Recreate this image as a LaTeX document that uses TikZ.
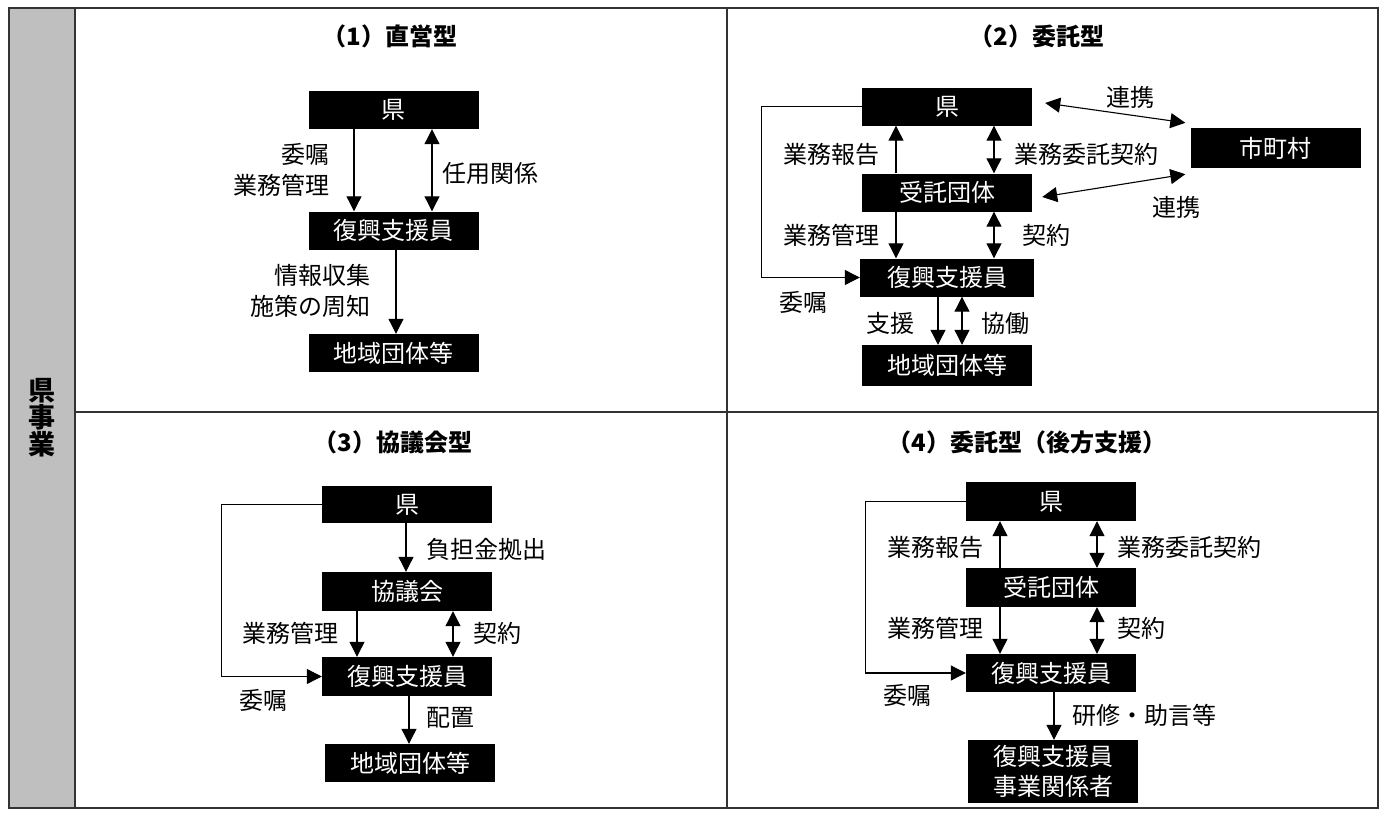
\documentclass[tikz,border=0pt]{standalone}
\usepackage{fontspec}
\setmainfont{Noto Sans CJK JP}
\usetikzlibrary{arrows.meta}
\begin{document}
\begin{tikzpicture}[x=1pt,y=-1pt,
  box/.style={fill=black,text=white,minimum width=170pt,minimum height=38pt,inner sep=0pt,align=center,font=\fontsize{24}{30}\selectfont},
  lbl/.style={inner sep=0pt,font=\fontsize{24}{31}\selectfont},
  ttl/.style={inner sep=0pt,font=\fontsize{24}{30}\selectfont\bfseries},
  arr/.style={line width=1.1pt,-{Triangle[length=15pt,width=15pt]}},
  darr/.style={line width=1.1pt,{Triangle[length=15pt,width=15pt]}-{Triangle[length=15pt,width=15pt]}},
  loop/.style={line width=1.1pt,-{Triangle[length=15pt,width=15pt]}},
  frame/.style={line width=2pt,draw=black!80}]
\useasboundingbox (0,0) rectangle (1386,816);
% side column
\fill[black!25] (9,8) rectangle (75,808);
\node[inner sep=0pt,align=center,font=\fontsize{27}{27}\selectfont\bfseries] (side) at (42,418) {県\\事\\業};
% frame
\draw[frame] (9,8) rectangle (1378,808);
\draw[frame] (75,8) -- (75,808);
\draw[frame] (727,8) -- (727,808);
\draw[frame] (75,412) -- (1378,412);

% titles
\node[ttl] (t1) at (390,36) {（1）直営型};
\node[ttl] (t2) at (1037,36) {（2）委託型};
\node[ttl] (t3) at (393,442) {（3）協議会型};
\node[ttl] (t4) at (1027,442) {（4）委託型（後方支援）};

% ---------- panel 1
\node[box] (p1k) at (393.5,110) {県};
\node[box] (p1f) at (393.5,230.5) {復興支援員};
\node[box] (p1c) at (393.5,353) {地域団体等};
\draw[arr] ([xshift=-39.5pt]p1k.south) -- ([xshift=-39.5pt]p1f.north);
\draw[darr] ([xshift=38.5pt]p1k.south) -- ([xshift=38.5pt]p1f.north);
\draw[arr] ([xshift=2.5pt]p1f.south) -- ([xshift=2.5pt]p1c.north);
\node[lbl,anchor=east,align=right] (l11) at (330,169.5) {委嘱\\業務管理};
\node[lbl,anchor=west] (l12) at (442,173) {任用関係};
\node[lbl,anchor=east,align=right] (l13) at (371,291) {情報収集\\施策の周知};

% ---------- panel 2
\node[box] (p2k) at (947,106.5) {県};
\node[box] (p2j) at (947,192.5) {受託団体};
\node[box,minimum width=174pt] (p2f) at (947,277.5) {復興支援員};
\node[box,minimum height=41pt] (p2c) at (947,365.5) {地域団体等};
\node[box,minimum height=40pt] (p2m) at (1275.5,148) {市町村};
\draw[arr] ([xshift=-51pt]p2j.north) -- ([xshift=-51pt]p2k.south);
\draw[darr] ([xshift=47pt]p2k.south) -- ([xshift=47pt]p2j.north);
\draw[arr] ([xshift=-51pt]p2j.south) -- ([xshift=-51pt]p2f.north);
\draw[darr] ([xshift=47pt]p2j.south) -- ([xshift=47pt]p2f.north);
\draw[arr] ([xshift=-9pt]p2f.south) -- ([xshift=-9pt]p2c.north);
\draw[darr] ([xshift=15pt]p2f.south) -- ([xshift=15pt]p2c.north);
\draw[loop] (p2k.west) -- ++(-100,0) |- (p2f.west);
\draw[darr] ([xshift=13pt,yshift=3.5pt]p2k.east) -- ([xshift=-5pt,yshift=5pt]p2m.north west);
\draw[darr] ([xshift=10pt,yshift=-4.5pt]p2j.east) -- ([xshift=-5pt,yshift=-6pt]p2m.south west);
\node[lbl] (l21) at (1130,97) {連携};
\node[lbl] (l22) at (1176,207) {連携};
\node[lbl,anchor=east] (l23) at (880,154) {業務報告};
\node[lbl,anchor=west] (l24) at (1014,154) {業務委託契約};
\node[lbl,anchor=east] (l25) at (880,235) {業務管理};
\node[lbl,anchor=west] (l26) at (1022,235) {契約};
\node[lbl,anchor=east] (l27) at (915,323) {支援};
\node[lbl,anchor=west] (l28) at (981,323) {協働};
\node[lbl] (l29) at (803,302) {委嘱};

% ---------- panel 3
\node[box,minimum height=37pt] (p3k) at (407,504.5) {県};
\node[box,minimum height=39pt] (p3g) at (407,591.5) {協議会};
\node[box,minimum height=39pt] (p3f) at (407,676.5) {復興支援員};
\node[box] (p3c) at (410,763) {地域団体等};
\draw[arr] ([xshift=-1pt]p3k.south) -- ([xshift=-1pt]p3g.north);
\draw[arr] ([xshift=-50pt]p3g.south) -- ([xshift=-50pt]p3f.north);
\draw[darr] ([xshift=46pt]p3g.south) -- ([xshift=46pt]p3f.north);
\draw[arr] ([xshift=2pt]p3f.south) -- ([xshift=-1pt]p3c.north);
\draw[loop] (p3k.west) -- ++(-100,0) |- (p3f.west);
\node[lbl,anchor=west] (l31) at (426,549) {負担金拠出};
\node[lbl,anchor=east] (l32) at (339,633) {業務管理};
\node[lbl,anchor=west] (l33) at (473,633) {契約};
\node[lbl,anchor=west] (l34) at (426,718) {配置};
\node[lbl] (l35) at (263,700) {委嘱};

% ---------- panel 4
\node[box,minimum height=39pt] (p4k) at (1051,501.5) {県};
\node[box,minimum height=39pt] (p4j) at (1051,587.5) {受託団体};
\node[box,minimum height=38pt] (p4f) at (1051,673) {復興支援員};
\node[box,minimum height=63pt,font=\fontsize{24}{30}\selectfont] (p4c) at (1053,771.5) {復興支援員\\事業関係者};
\draw[arr] ([xshift=-51pt]p4j.north) -- ([xshift=-51pt]p4k.south);
\draw[darr] ([xshift=46pt]p4k.south) -- ([xshift=46pt]p4j.north);
\draw[arr] ([xshift=-51pt]p4j.south) -- ([xshift=-51pt]p4f.north);
\draw[darr] ([xshift=46pt]p4j.south) -- ([xshift=46pt]p4f.north);
\draw[arr] ([xshift=3pt]p4f.south) -- ([xshift=1pt]p4c.north);
\draw[loop] (p4k.west) -- ++(-100,0) |- (p4f.west);
\node[lbl,anchor=east] (l41) at (984,547) {業務報告};
\node[lbl,anchor=west] (l42) at (1117,547) {業務委託契約};
\node[lbl,anchor=east] (l43) at (984,628) {業務管理};
\node[lbl,anchor=west] (l44) at (1117,628) {契約};
\node[lbl,anchor=west] (l45) at (1072,715) {研修・助言等};
\node[lbl] (l46) at (907,695) {委嘱};
\end{tikzpicture}
\end{document}
